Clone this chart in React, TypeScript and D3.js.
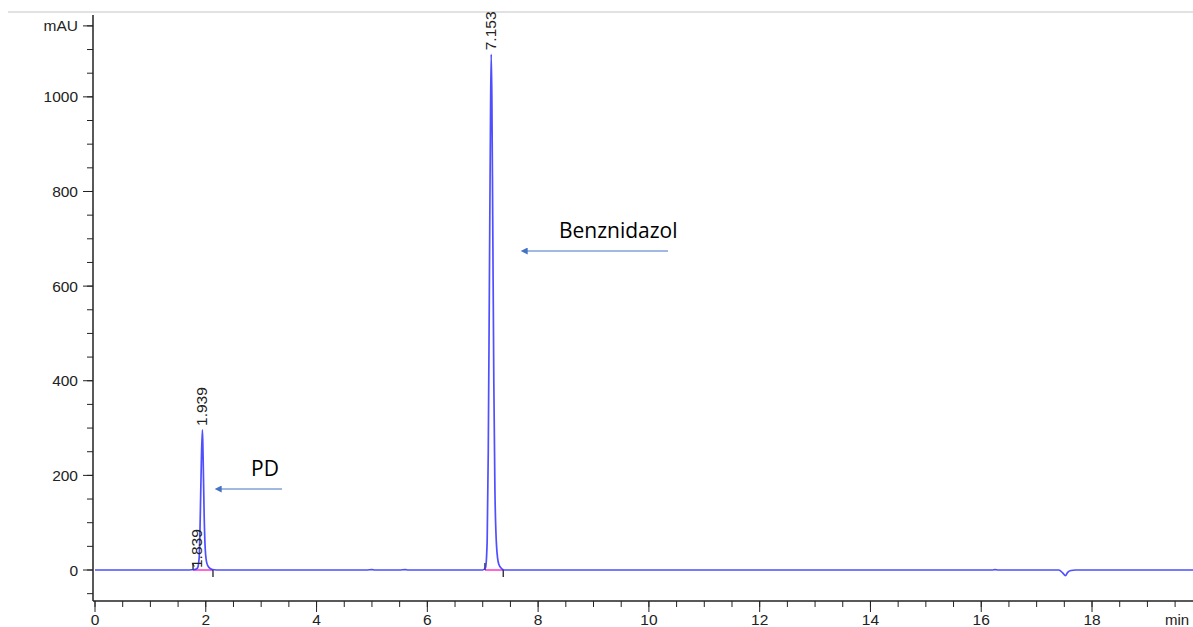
import React from 'react';
import * as d3 from 'd3';

// chromatogram trace (time in min, signal in mAU)
const traceTime = [
  0, 1.7, 1.8, 1.85, 1.88, 1.9, 1.92, 1.939, 1.95, 1.97, 1.99, 2.02, 2.06, 2.12, 2.2, 2.6,
  4.9, 5.0, 5.05, 5.5, 5.6, 5.65, 6.9, 7.0, 7.05, 7.08, 7.1, 7.12, 7.14, 7.153, 7.165, 7.18,
  7.2, 7.22, 7.25, 7.29, 7.34, 7.4, 8.0, 16.2, 16.25, 16.3, 16.8, 17.4, 17.47, 17.52, 17.56,
  17.62, 17.7, 20,
];
const traceValue = [
  0, 0, 1, 4, 25, 110, 230, 296, 250, 120, 45, 14, 5, 1, 0, 0,
  0, 1, 0, 0, 1, 0, 0, 0, 5, 60, 250, 600, 950, 1090, 1000, 750,
  400, 170, 50, 12, 3, 0, 0, 0, 1, 0, 0, 0, -6, -12, -5,
  -1, 0, 0,
];

const peakTimes = [1.839, 1.939, 7.153];
const peakHeights = [4, 296, 1090];
const peakLabels = ['1.839', '1.939', '7.153'];

// integration baselines: start, end
const baseStart = [1.77, 7.04];
const baseEnd = [2.13, 7.37];

const xMajor = [0, 2, 4, 6, 8, 10, 12, 14, 16, 18];
const yMajor = [0, 200, 400, 600, 800, 1000];

const W = 1193;
const H = 627;

export default function App() {
  const x = d3.scaleLinear().domain([0, 20]).range([95, 95 + 20 * 55.39]);
  const y = d3.scaleLinear().domain([-65.5, 1173]).range([601, 15]);

  const points: [number, number][] = traceTime.map((t, i) => [t, traceValue[i]]);
  const line = d3
    .line<[number, number]>()
    .x((d) => x(d[0]))
    .y((d) => y(d[1]))
    .curve(d3.curveMonotoneX);

  const xMinor = d3.range(0, 20, 0.5);
  const yMinor = d3.range(-50, 1151, 50);
  const tickFont = "'Liberation Sans', Arial, sans-serif";
  const noteFont = "'Open Sans', 'Noto Sans', sans-serif";
  const arrowBlue = '#4472c4';

  return (
    <div style={{ position: 'absolute', left: 0, top: 0 }}>
      <svg width={W} height={H} style={{ display: 'block', background: '#fff' }}>
        <defs>
          <marker id="head" viewBox="0 0 10 10" refX="1" refY="5" markerWidth="9" markerHeight="7"
            markerUnits="userSpaceOnUse" orient="auto-start-reverse">
            <path d="M0,0 L10,5 L0,10 z" fill={arrowBlue} />
          </marker>
        </defs>

        <line x1={8} x2={W} y1={12} y2={12} stroke="#d9d9d9" strokeWidth={1.5} />

        {/* y axis */}
        <line x1={x(0) - 2} x2={x(0) - 2} y1={15} y2={601} stroke="#222" strokeWidth={1.5} />
        {yMinor.map((v) => (
          <line key={'ym' + v} x1={x(0) - 8} x2={x(0) - 2} y1={y(v)} y2={y(v)} stroke="#222" />
        ))}
        {yMajor.map((v) => (
          <g key={'y' + v}>
            <line x1={x(0) - 12} x2={x(0) - 2} y1={y(v)} y2={y(v)} stroke="#222" />
            <text x={78} y={y(v)} dy="0.36em" textAnchor="end" fontFamily={tickFont} fontSize={15.5} fill="#222">
              {v}
            </text>
          </g>
        ))}
        <line x1={x(0) - 12} x2={x(0) - 2} y1={y(1150)} y2={y(1150)} stroke="#222" />
        <text x={78} y={y(1150)} dy="0.36em" textAnchor="end" fontFamily={tickFont} fontSize={15.5} fill="#222">
          mAU
        </text>

        {/* x axis */}
        <line x1={x(0) - 2} x2={W} y1={601} y2={601} stroke="#222" strokeWidth={1.5} />
        {xMinor.map((v) => (
          <line key={'xm' + v} x1={x(v)} x2={x(v)} y1={601} y2={607} stroke="#222" />
        ))}
        {xMajor.map((v) => (
          <g key={'x' + v}>
            <line x1={x(v)} x2={x(v)} y1={601} y2={612} stroke="#222" />
            <text x={x(v)} y={625} textAnchor="middle" fontFamily={tickFont} fontSize={15.5} fill="#222">
              {v}
            </text>
          </g>
        ))}
        <text x={1165} y={625} fontFamily={tickFont} fontSize={15} fill="#222">min</text>

        {/* integration baselines */}
        {baseStart.map((s, i) => (
          <g key={'b' + i}>
            <line x1={x(s)} x2={x(baseEnd[i])} y1={y(0)} y2={y(0)} stroke="#ff33cc" strokeWidth={1.5} />
            <line x1={x(s)} x2={x(s)} y1={y(0) - 7} y2={y(0)} stroke="#111" strokeWidth={1.2} />
            <line x1={x(baseEnd[i])} x2={x(baseEnd[i])} y1={y(0)} y2={y(0) + 7} stroke="#111" strokeWidth={1.2} />
          </g>
        ))}

        <path d={line(points) ?? ''} fill="none" stroke="#3030ff" strokeOpacity={0.85} strokeWidth={1.7} />

        {/* peak labels */}
        {peakTimes.map((t, i) => {
          const px = x(t) + 5;
          const py = i === 0 ? y(0) - 2 : y(peakHeights[i]) - 4;
          return (
            <text key={'p' + i} transform={`translate(${px},${py}) rotate(-90)`} fontFamily={tickFont}
              fontSize={15.5} fill="#222">
              {peakLabels[i]}
            </text>
          );
        })}

        {/* annotations */}
        <text x={251} y={476} fontFamily={noteFont} fontSize={21} fill="#000">PD</text>
        <line x1={282} x2={221} y1={489} y2={489} stroke={arrowBlue} strokeWidth={1.2} markerEnd="url(#head)" />
        <text x={559} y={238} fontFamily={noteFont} fontSize={21} fill="#000">Benznidazol</text>
        <line x1={668} x2={527} y1={251} y2={251} stroke={arrowBlue} strokeWidth={1.2} markerEnd="url(#head)" />
      </svg>
    </div>
  );
}
